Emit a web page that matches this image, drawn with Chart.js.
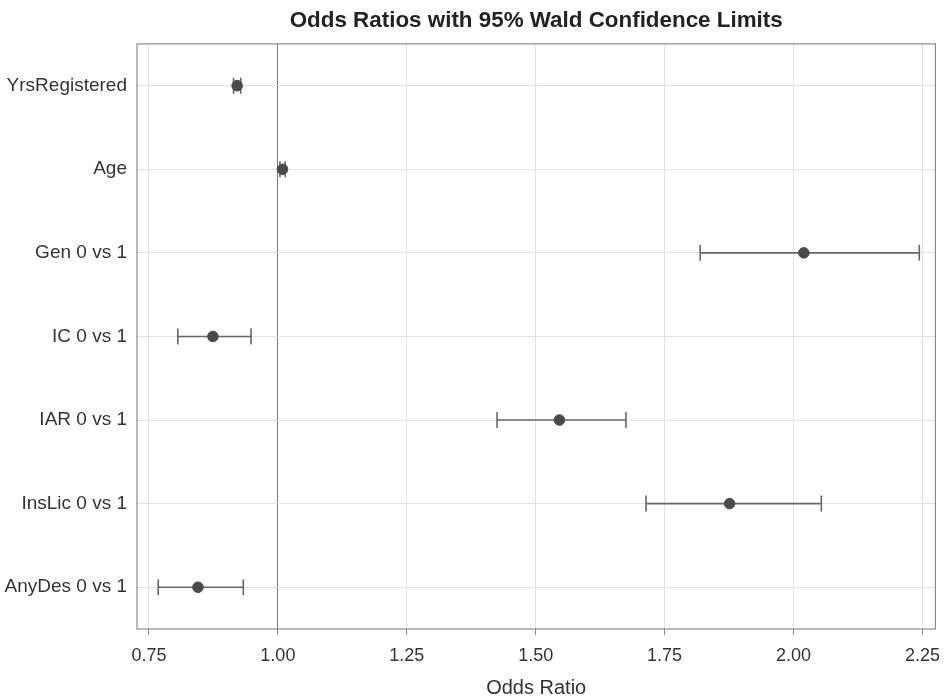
<!DOCTYPE html>
<html>
<head>
<meta charset="utf-8">
<script src="https://cdn.jsdelivr.net/npm/chart.js@4.4.1/dist/chart.umd.min.js"></script>
<style>
  html, body { margin: 0; padding: 0; background: #fff; }
  #wrap { width: 945px; height: 700px; }
</style>
</head>
<body>
<div id="wrap"><canvas id="orChart"></canvas></div>
<script>
const effects = ['YrsRegistered', 'Age', 'Gen 0 vs 1', 'IC 0 vs 1', 'IAR 0 vs 1', 'InsLic 0 vs 1', 'AnyDes 0 vs 1'];
const oddsRatio = [0.921, 1.009, 2.020, 0.874, 1.546, 1.876, 0.845];
const lowerCL = [0.914, 1.004, 1.819, 0.806, 1.425, 1.714, 0.768];
const upperCL = [0.928, 1.014, 2.244, 0.948, 1.675, 2.054, 0.933];
const xTicks = [0.75, 1.00, 1.25, 1.50, 1.75, 2.00, 2.25];

const FONT = '"Liberation Sans", Arial, sans-serif';

// one little line dataset per confidence interval, caps are vertical 'line' points
const ciSets = effects.map((name, i) => ({
  type: 'scatter',
  data: [{ x: lowerCL[i], y: name }, { x: upperCL[i], y: name }],
  showLine: true,
  borderColor: '#666',
  borderWidth: 1.6,
  pointStyle: 'line',
  rotation: 90,
  pointRadius: 8,
  pointBorderColor: '#666',
  pointBorderWidth: 1.6,
  order: 2
}));

const pointSet = {
  type: 'scatter',
  data: effects.map((name, i) => ({ x: oddsRatio[i], y: name })),
  pointStyle: 'circle',
  pointRadius: 5.3,
  pointBackgroundColor: '#4a4a4a',
  pointBorderColor: '#4a4a4a',
  pointBorderWidth: 1,
  showLine: false,
  order: 1
};

// frame round the plot area
const frame = {
  id: 'frame',
  afterDraw(chart) {
    const a = chart.chartArea;
    const c = chart.ctx;
    c.save();
    c.strokeStyle = '#8c8c8c';
    c.lineWidth = 1.2;
    c.strokeRect(a.left, a.top, a.right - a.left, a.bottom - a.top);
    c.restore();
  }
};

new Chart(document.getElementById('orChart'), {
  type: 'scatter',
  data: { datasets: [...ciSets, pointSet] },
  options: {
    responsive: true,
    maintainAspectRatio: false,
    animation: false,
    layout: { padding: { left: 0, right: 6, top: 0, bottom: 0 } },
    plugins: {
      legend: { display: false },
      tooltip: { enabled: false },
      title: {
        display: true,
        fullSize: false,
        text: 'Odds Ratios with 95% Wald Confidence Limits',
        color: '#222',
        font: { family: FONT, size: 22.4, weight: 'bold' },
        padding: { top: 7, bottom: 10 }
      }
    },
    scales: {
      x: {
        type: 'linear',
        min: 0.7268,
        max: 2.2752,
        afterBuildTicks(scale) {
          scale.ticks = xTicks.map(v => ({ value: v }));
        },
        afterFit(scale) {
          scale.paddingLeft = 0;
          scale.paddingRight = 0;
          scale.height = 71;
        },
        ticks: {
          color: '#333',
          font: { family: FONT, size: 18 },
          padding: 10,
          callback: v => Number(v).toFixed(2)
        },
        grid: {
          color: ctx => (ctx.tick && Math.abs(ctx.tick.value - 1) < 1e-6) ? '#777' : '#e2e2e2',
          tickColor: '#888',
          tickLength: 6,
          lineWidth: 1
        },
        border: { display: false },
        title: {
          display: true,
          text: 'Odds Ratio',
          color: '#333',
          font: { family: FONT, size: 20 },
          padding: { top: 8, bottom: 0 }
        }
      },
      y: {
        type: 'category',
        labels: effects,
        offset: true,
        afterFit(scale) {
          scale.width = 137;
          scale.paddingTop = 0;
          scale.paddingBottom = 0;
        },
        ticks: {
          color: '#333',
          font: { family: FONT, size: 19 },
          padding: 10
        },
        grid: { color: '#e2e2e2', drawTicks: false },
        border: { display: false }
      }
    }
  },
  plugins: [frame]
});
</script>
</body>
</html>
